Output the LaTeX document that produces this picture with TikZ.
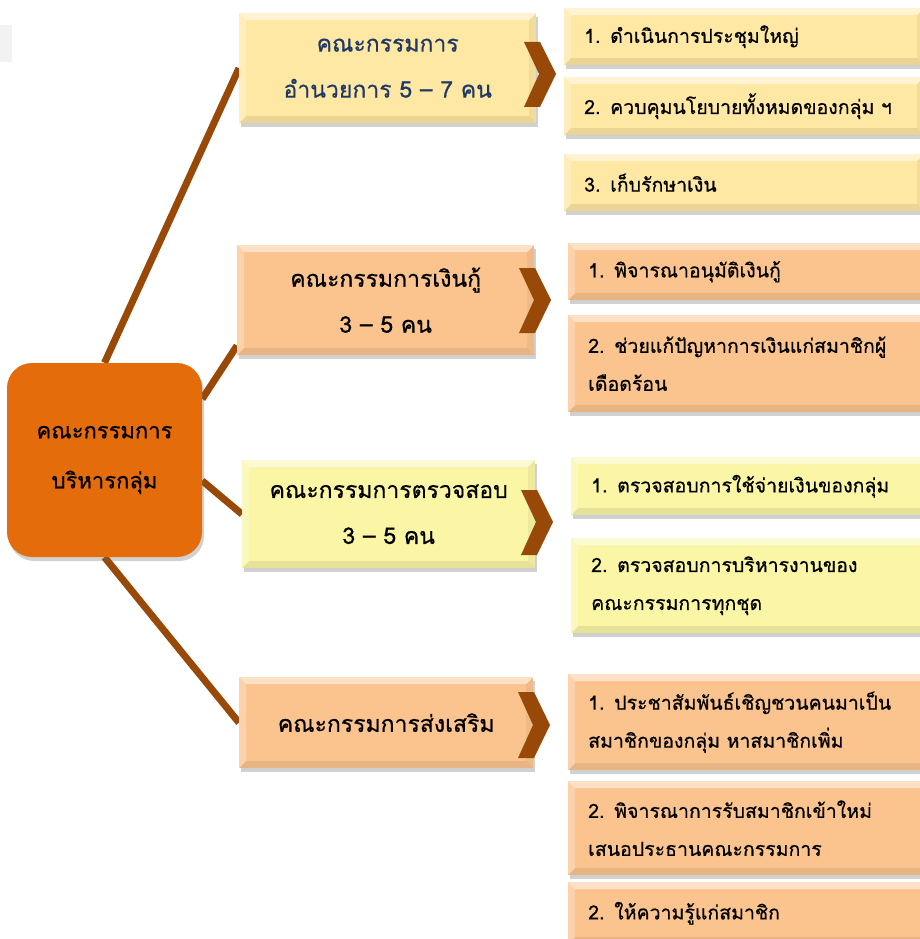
\documentclass[tikz,border=0pt]{standalone}
\usepackage{fontspec}
\setmainfont[Script=Thai,FakeBold=0.6]{Loma}
\usetikzlibrary{shadows}
\pgfdeclarelayer{background}
\pgfsetlayers{background,main}
\definecolor{brn}{HTML}{984807}
\definecolor{orng}{HTML}{E46C0A}
\definecolor{gold}{HTML}{FFE8A3}
\definecolor{peach}{HTML}{FBC48F}
\definecolor{pale}{HTML}{FAF6A6}
\definecolor{navy}{HTML}{1F3864}
\definecolor{lgray}{HTML}{F2F2F2}
\begin{document}
\begin{tikzpicture}[x=1pt,y=-1pt,
  bevel/.style={path picture={
    \coordinate (nw) at (path picture bounding box.north west);
    \coordinate (ne) at (path picture bounding box.north east);
    \coordinate (sw) at (path picture bounding box.south west);
    \coordinate (se) at (path picture bounding box.south east);
    \fill[white,opacity=.5] (nw) -- (ne) -- ([shift={(-7pt,-7pt)}]ne) -- ([shift={(7pt,-7pt)}]nw) -- cycle;
    \fill[white,opacity=.25] (nw) -- ([shift={(7pt,-7pt)}]nw) -- ([shift={(7pt,7pt)}]sw) -- (sw) -- cycle;
    \fill[black,opacity=.08] (sw) -- (se) -- ([shift={(-7pt,7pt)}]se) -- ([shift={(7pt,7pt)}]sw) -- cycle;
    \fill[black,opacity=.05] (ne) -- (se) -- ([shift={(-7pt,7pt)}]se) -- ([shift={(-7pt,-7pt)}]ne) -- cycle;
  }},
  shad/.style={drop shadow={shadow xshift=2pt,shadow yshift=-4pt,opacity=.3,fill=black!60}},
  lbox/.style={anchor=north west,fill=#1,shad,bevel,inner sep=0pt,
    minimum width=297pt,minimum height=110pt,align=center,
    font=\fontsize{23}{46}\selectfont},
  rbox/.style={anchor=north west,fill=#1,shad,bevel,inner xsep=20pt,inner ysep=0pt,
    text width=320pt,align=left,font=\fontsize{19.5}{38}\selectfont},
  cbox/.style={fill=orng,rounded corners=25pt,shad,minimum width=195pt,minimum height=194pt,
    inner sep=0pt,align=center,font=\fontsize{22}{50}\selectfont},
  conn/.style={brn,line width=7pt},
  chev/.style={fill=brn}
]
\useasboundingbox (0,0) rectangle (919,939);
\fill[lgray] (0,25) rectangle (12,62);

% left boxes
\node[lbox=gold,text=navy] (b1) at (239,13) {คณะกรรมการ\\อำนวยการ 5 – 7 คน};
\node[lbox=peach] (b2) at (237,245) {คณะกรรมการเงินกู้\\3 – 5 คน};
\node[lbox=pale,minimum width=293pt,minimum height=108pt] (b3) at (242,460) {คณะกรรมการตรวจสอบ\\3 – 5 คน};
\node[lbox=peach,minimum width=294pt,minimum height=91pt] (b4) at (239,677) {คณะกรรมการส่งเสริม};

% right boxes
\node[rbox=gold,minimum height=57pt] (r1a) at (564,8) {1. ดำเนินการประชุมใหญ่};
\node[rbox=gold,minimum height=58pt] (r1b) at (564,77) {2. ควบคุมนโยบายทั้งหมดของกลุ่ม ฯ};
\node[rbox=gold,minimum height=57pt] (r1c) at (564,154) {3. เก็บรักษาเงิน};

\node[rbox=peach,minimum height=57pt] (r2a) at (568,243) {1. พิจารณาอนุมัติเงินกู้};
\node[rbox=peach,minimum height=97pt] (r2b) at (568,315) {2. ช่วยแก้ปัญหาการเงินแก่สมาชิกผู้\\เดือดร้อน};

\node[rbox=pale,minimum height=58pt] (r3a) at (571,457) {1. ตรวจสอบการใช้จ่ายเงินของกลุ่ม};
\node[rbox=pale,minimum height=95pt] (r3b) at (571,538) {2. ตรวจสอบการบริหารงานของ\\คณะกรรมการทุกชุด};

\node[rbox=peach,minimum height=96pt] (r4a) at (568,674) {1. ประชาสัมพันธ์เชิญชวนคนมาเป็น\\สมาชิกของกลุ่ม หาสมาชิกเพิ่ม};
\node[rbox=peach,minimum height=94pt] (r4b) at (568,781) {2. พิจารณาการรับสมาชิกเข้าใหม่\\เสนอประธานคณะกรรมการ};
\node[rbox=peach,minimum height=62pt] (r4c) at (568,882) {2. ให้ความรู้แก่สมาชิก};

% centre
\node[cbox] (c) at (104.5,460) {คณะกรรมการ\\บริหารกลุ่ม};

% connectors
\begin{pgfonlayer}{background}
\draw[conn] (c.north) -- (b1.west);
\draw[conn] (c.32) -- (b2.197);
\draw[conn] (c.-12) -- (b3.west);
\draw[conn] (c.south) -- (b4.west);
\end{pgfonlayer}

% chevrons
\fill[chev] (524,42) -- (540,42) -- (556,74) -- (540,107) -- (524,107) -- (539,74) -- cycle;
\fill[chev] (519,268) -- (535,268) -- (551,300) -- (535,333) -- (519,333) -- (534,300) -- cycle;
\fill[chev] (521,490) -- (537,490) -- (553,522) -- (537,555) -- (521,555) -- (536,522) -- cycle;
\fill[chev] (518,692) -- (534,692) -- (550,725) -- (534,758) -- (518,758) -- (533,725) -- cycle;
\end{tikzpicture}
\end{document}
